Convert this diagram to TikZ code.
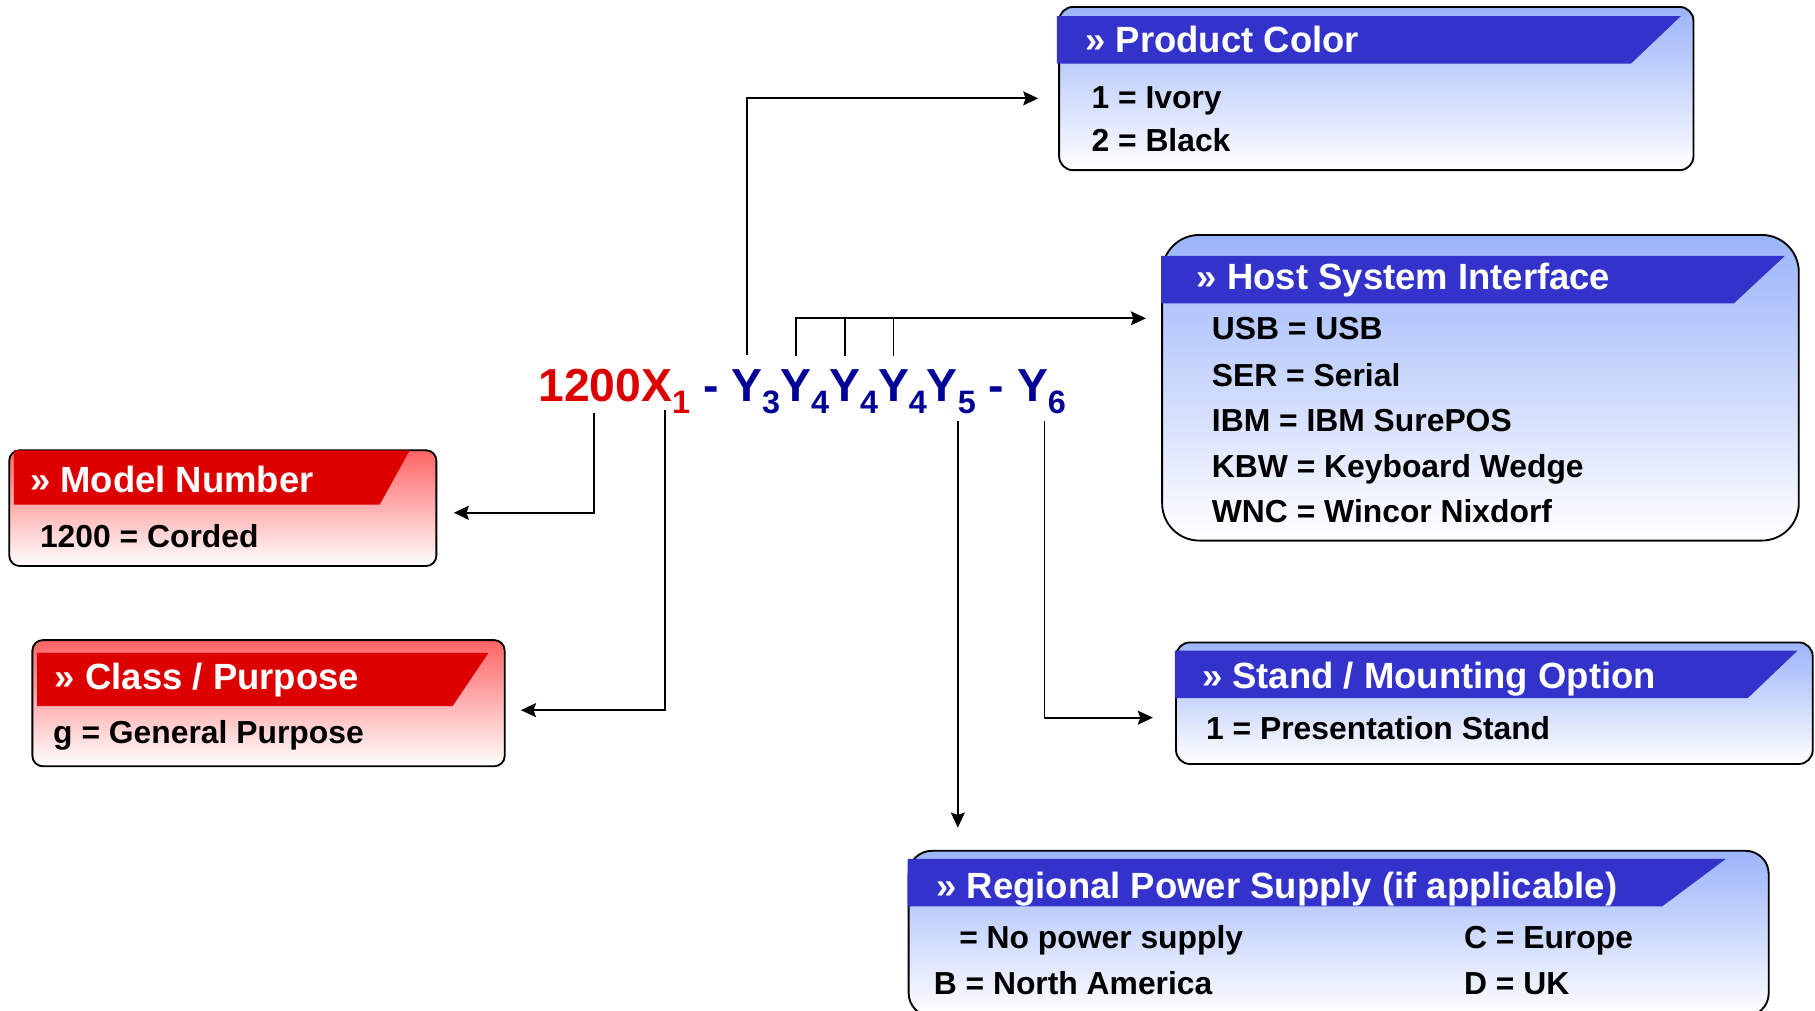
\documentclass[tikz,border=0pt]{standalone}
\usepackage{fontspec}
\setmainfont{Liberation Sans}
\usetikzlibrary{arrows.meta}
\definecolor{codered}{RGB}{221,0,0}
\definecolor{codeblue}{RGB}{0,0,153}
\definecolor{bandblue}{RGB}{51,51,204}
\definecolor{topred}{RGB}{255,100,100}
\definecolor{topblue}{RGB}{155,180,250}

\begin{document}
\begin{tikzpicture}[x=1pt, y=-1pt, line width=1.6pt, >={Stealth[length=13pt, width=12pt, inset=2pt]},
	redbox/.style={draw, rounded corners=9pt, top color=topred, bottom color=white, anchor=north west, inner sep=0pt, outer sep=0pt},
	bluebox/.style={draw, rounded corners=12pt, top color=topblue, bottom color=white, anchor=north west, inner sep=0pt, outer sep=0pt},
	boxtitle/.style={anchor=base west, inner sep=0pt, outer sep=0pt, text=white, font=\fontsize{31.5}{32}\selectfont\bfseries},
	boxitem/.style={anchor=base west, inner sep=0pt, outer sep=0pt, font=\fontsize{27.5}{28}\selectfont\bfseries},
	codetxt/.style={anchor=base west, inner sep=0pt, outer sep=0pt, text=codeblue, font=\fontsize{40}{40}\selectfont\bfseries},
	codesub/.style={codetxt, yshift=-10pt, font=\fontsize{28}{28}\selectfont\bfseries}]
	\useasboundingbox (0,0) rectangle (1568,873);
	
	% 左侧红框 (型号、用途)
	\node[redbox, minimum width=369pt, minimum height=100pt] (model) at (8,389) {};
	\node[redbox, minimum width=408pt, minimum height=109pt] (class) at (28,553) {};
	\fill[codered] (12,389) -- (354,389) -- (328,436) -- (12,436) -- cycle;
	\fill[codered] (32,564) -- (422,564) -- (391,610) -- (32,610) -- cycle;
	\node[boxtitle] (modelT) at (26,425.6) {» Model Number};
	\node[boxitem] (modelA) at (34.6,472.6) {1200 = Corded};
	\node[boxtitle] (classT) at (47.5,596) {» Class / Purpose};
	\node[boxitem] (classA) at (46,642) {g = General Purpose};
	
	% 右侧蓝框
	\node[bluebox, minimum width=548pt, minimum height=141pt] (prodcolor) at (915,6) {};
	\node[bluebox, rounded corners=32pt, minimum width=550pt, minimum height=264pt] (host) at (1004,203) {};
	\node[bluebox, minimum width=550pt, minimum height=105pt] (stand) at (1016,555) {};
	\node[bluebox, rounded corners=20pt, minimum width=743pt, minimum height=143pt] (region) at (785,735) {};
	\fill[bandblue] (913,14) -- (1452,14) -- (1409,55) -- (913,55) -- cycle;
	\fill[bandblue] (1003,221) -- (1542,221) -- (1498,262) -- (1003,262) -- cycle;
	\fill[bandblue] (1015,562) -- (1553,562) -- (1510,603) -- (1015,603) -- cycle;
	\fill[bandblue] (784,742) -- (1491,742) -- (1436,783) -- (784,783) -- cycle;
	
	\node[boxtitle] (prodT) at (937.7,45) {» Product Color};
	\node[boxitem] (prodA) at (943,94) {1 = Ivory};
	\node[boxitem] (prodB) at (943,131) {2 = Black};
	
	\node[boxtitle] (hostT) at (1034,250.3) {» Host System Interface};
	\node[boxitem] (hostA) at (1047,293.4) {USB = USB};
	\node[boxitem] (hostB) at (1047,333.6) {SER = Serial};
	\node[boxitem] (hostC) at (1047,373.2) {IBM = IBM SurePOS};
	\node[boxitem] (hostD) at (1047,412.5) {KBW = Keyboard Wedge};
	\node[boxitem] (hostE) at (1047,451.8) {WNC = Wincor Nixdorf};
	
	\node[boxtitle] (standT) at (1038.5,595) {» Stand / Mounting Option};
	\node[boxitem] (standA) at (1042,639) {1 = Presentation Stand};
	
	\node[boxtitle] (regionT) at (809,776) {» Regional Power Supply (if applicable)};
	\node[boxitem] (regionA) at (828.7,819) {= No power supply};
	\node[boxitem] (regionB) at (806.7,859) {B = North America};
	\node[boxitem] (regionC) at (1264.8,819) {C = Europe};
	\node[boxitem] (regionD) at (1264.8,859) {D = UK};
	
	% 型号编码 (逐字符放置，方便引线)
	\node[codetxt, text=codered] (n1200) at (465,347) {1200};
	\node[codetxt, text=codered] (nx) at (n1200.base east) {X};
	\node[codesub, text=codered] (nx1) at (nx.base east) {1};
	\node[codetxt] (dash1) at (nx1.east |- nx.base) {\kern.278em-\kern.278em};
	\node[codetxt] (y3) at (dash1.base east) {Y};
	\node[codesub] (s3) at (y3.base east) {3};
	\node[codetxt] (y4a) at (s3.east |- y3.base) {Y};
	\node[codesub] (s4a) at (y4a.base east) {4};
	\node[codetxt] (y4b) at (s4a.east |- y3.base) {Y};
	\node[codesub] (s4b) at (y4b.base east) {4};
	\node[codetxt] (y4c) at (s4b.east |- y3.base) {Y};
	\node[codesub] (s4c) at (y4c.base east) {4};
	\node[codetxt] (y5) at (s4c.east |- y3.base) {Y};
	\node[codesub] (s5) at (y5.base east) {5};
	\node[codetxt] (dash2) at (s5.east |- y3.base) {\kern.278em-\kern.278em};
	\node[codetxt] (y6) at (dash2.base east) {Y};
	\node[codesub] (s6) at (y6.base east) {6};
	
	% 引线终点
	\coordinate (prodin) at ([xshift=-18pt, yshift=-8.5pt]prodcolor.west);
	\coordinate (hostin) at ([xshift=-14pt, yshift=60pt]host.west);
	\coordinate (modelin) at ([xshift=15pt, yshift=-4pt]model.east);
	\coordinate (classin) at ([xshift=14pt, yshift=-6pt]class.east);
	\coordinate (regionin) at ([yshift=20pt]region.north);
	\coordinate (standin) at ([xshift=-20pt, yshift=-12.5pt]stand.west);
	
	% 引线
	\draw[->] ([yshift=13pt]y3.north) |- (prodin);
	\draw[->] ([yshift=12pt]y4a.north) |- (hostin);
	\draw ([yshift=12pt]y4b.north) -- (y4b.north |- hostin);
	\draw ([yshift=12pt]y4c.north) -- (y4c.north |- hostin);
	\draw[->] ([xshift=3.5pt, yshift=-9pt]n1200.south) |- (modelin);
	\draw[->] ([xshift=7pt, yshift=-7pt]nx.south) |- (classin);
	\draw[->] ([yshift=-17pt]y5.south east) -- (y5.south east |- regionin);
	\draw[->] ([xshift=-3pt, yshift=-17pt]y6.south east) |- (standin);
\end{tikzpicture}
\end{document}
